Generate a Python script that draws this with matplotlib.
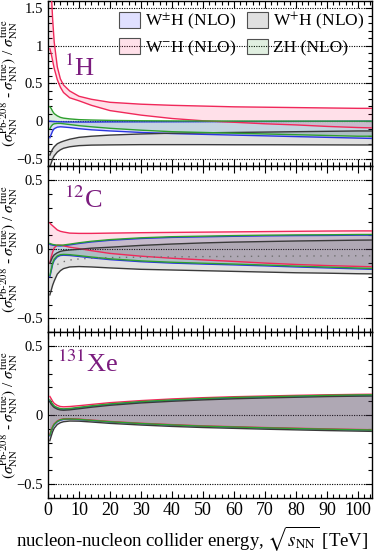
import numpy as np
import matplotlib
matplotlib.use('Agg')
import matplotlib.pyplot as plt
from matplotlib.patches import Patch
from matplotlib.ticker import MultipleLocator, FuncFormatter

plt.rcParams['font.family'] = ['Liberation Serif', 'DejaVu Serif']
plt.rcParams['mathtext.fontset'] = 'stix'

# ---------------- data ----------------
energy = [0.6, 1, 1.5, 2, 3, 4, 5, 7, 10, 14, 20, 30, 40, 50, 60, 70, 80, 90, 100, 105]

# 1H panel
h_wpm_hi = [0.0, -0.002, -0.004, -0.005, -0.007, -0.009, -0.01, -0.011, -0.012, -0.012, -0.01, -0.009, -0.008, -0.007, -0.005, -0.004, -0.003, -0.002, 0.0, 0.0]
h_wpm_lo = [-0.22, -0.18, -0.13, -0.1, -0.08, -0.075, -0.078, -0.085, -0.1, -0.115, -0.13, -0.15, -0.165, -0.175, -0.185, -0.195, -0.205, -0.215, -0.225, -0.23]
h_wm_hi = [2.2, 1.75, 1.35, 1.05, 0.72, 0.56, 0.48, 0.4, 0.33, 0.29, 0.25, 0.225, 0.21, 0.2, 0.19, 0.185, 0.18, 0.175, 0.17, 0.17]
h_wm_lo = [0.96, 0.9, 0.8, 0.7, 0.55, 0.45, 0.38, 0.31, 0.27, 0.21, 0.14, 0.08, 0.035, 0.005, -0.015, -0.035, -0.05, -0.07, -0.085, -0.09]
h_wp_hi = [-0.45, -0.41, -0.37, -0.34, -0.3, -0.28, -0.265, -0.24, -0.215, -0.2, -0.185, -0.17, -0.16, -0.155, -0.15, -0.145, -0.14, -0.135, -0.13, -0.13]
h_wp_lo = [-0.6, -0.56, -0.5, -0.46, -0.41, -0.38, -0.36, -0.34, -0.325, -0.318, -0.315, -0.312, -0.312, -0.312, -0.313, -0.313, -0.314, -0.315, -0.316, -0.316]
h_zh_hi = [0.19, 0.17, 0.13, 0.1, 0.07, 0.05, 0.04, 0.03, 0.02, 0.015, 0.01, 0.005, 0.003, 0.002, 0.001, 0.0, 0.0, 0.0, 0.0, 0.0]
h_zh_lo = [-0.1, -0.07, -0.045, -0.035, -0.03, -0.03, -0.035, -0.045, -0.06, -0.075, -0.095, -0.12, -0.14, -0.15, -0.16, -0.17, -0.18, -0.19, -0.2, -0.2]

# 12C panel
c_wpm_hi = [0.035, 0.033, 0.03, 0.028, 0.025, 0.024, 0.026, 0.032, 0.042, 0.053, 0.065, 0.078, 0.086, 0.09, 0.094, 0.097, 0.099, 0.1, 0.102, 0.102]
c_wpm_lo = [-0.2, -0.16, -0.11, -0.08, -0.055, -0.045, -0.043, -0.045, -0.052, -0.062, -0.075, -0.09, -0.1, -0.107, -0.113, -0.12, -0.128, -0.135, -0.142, -0.145]
c_wm_hi = [0.19, 0.18, 0.17, 0.16, 0.14, 0.13, 0.125, 0.117, 0.115, 0.115, 0.117, 0.12, 0.122, 0.124, 0.126, 0.128, 0.13, 0.132, 0.133, 0.133]
c_wm_lo = [-0.1, -0.06, -0.02, 0.01, 0.03, 0.03, 0.025, 0.015, 0.005, -0.01, -0.03, -0.05, -0.065, -0.077, -0.088, -0.1, -0.11, -0.118, -0.124, -0.127]
c_wp_hi = [-0.1, -0.08, -0.055, -0.04, -0.025, -0.015, -0.01, -0.005, 0.0, 0.008, 0.015, 0.028, 0.038, 0.046, 0.052, 0.056, 0.06, 0.063, 0.066, 0.067]
c_wp_lo = [-0.33, -0.3, -0.26, -0.23, -0.18, -0.155, -0.14, -0.128, -0.125, -0.128, -0.135, -0.145, -0.15, -0.155, -0.16, -0.165, -0.17, -0.173, -0.177, -0.178]
c_zh_hi = [0.042, 0.039, 0.035, 0.033, 0.03, 0.029, 0.031, 0.037, 0.047, 0.058, 0.07, 0.083, 0.091, 0.095, 0.099, 0.102, 0.104, 0.105, 0.107, 0.107]
c_zh_lo = [-0.19, -0.15, -0.1, -0.072, -0.048, -0.039, -0.037, -0.039, -0.046, -0.056, -0.069, -0.084, -0.094, -0.101, -0.107, -0.114, -0.122, -0.129, -0.136, -0.139]
c_wp_mid = [None, None, None, None, -0.11, -0.1, -0.09, -0.078, -0.07, -0.065, -0.06, -0.057, -0.055, -0.053, -0.052, -0.05, -0.049, -0.048, -0.047, -0.047]

# 131Xe panel
x_wpm_hi = [0.105, 0.09, 0.075, 0.062, 0.05, 0.043, 0.041, 0.044, 0.052, 0.063, 0.077, 0.094, 0.106, 0.116, 0.124, 0.129, 0.134, 0.139, 0.142, 0.143]
x_wpm_lo = [-0.15, -0.12, -0.09, -0.07, -0.048, -0.037, -0.032, -0.03, -0.033, -0.04, -0.05, -0.063, -0.073, -0.082, -0.088, -0.094, -0.099, -0.104, -0.108, -0.11]
x_wm_hi = [0.135, 0.12, 0.1, 0.085, 0.07, 0.062, 0.06, 0.062, 0.068, 0.077, 0.09, 0.105, 0.117, 0.126, 0.133, 0.138, 0.143, 0.147, 0.15, 0.151]
x_wm_lo = [-0.14, -0.11, -0.082, -0.063, -0.042, -0.032, -0.027, -0.026, -0.029, -0.036, -0.046, -0.059, -0.069, -0.078, -0.084, -0.09, -0.095, -0.1, -0.104, -0.106]
x_wp_hi = [0.095, 0.08, 0.066, 0.055, 0.043, 0.037, 0.035, 0.038, 0.046, 0.057, 0.071, 0.088, 0.1, 0.11, 0.118, 0.124, 0.129, 0.134, 0.137, 0.138]
x_wp_lo = [-0.185, -0.155, -0.12, -0.095, -0.068, -0.055, -0.048, -0.043, -0.044, -0.05, -0.06, -0.072, -0.082, -0.09, -0.096, -0.102, -0.107, -0.112, -0.116, -0.118]
x_zh_hi = [0.11, 0.095, 0.079, 0.066, 0.054, 0.047, 0.045, 0.048, 0.056, 0.067, 0.081, 0.098, 0.11, 0.12, 0.128, 0.133, 0.138, 0.143, 0.146, 0.147]
x_zh_lo = [-0.145, -0.115, -0.086, -0.066, -0.045, -0.034, -0.029, -0.028, -0.031, -0.038, -0.048, -0.061, -0.071, -0.08, -0.086, -0.092, -0.097, -0.102, -0.106, -0.108]

series_labels = [r'W$^{\pm}$H (NLO)', r'W$^{-}$H (NLO)', r'W$^{+}$H (NLO)', 'ZH (NLO)']
nucleus_labels = [r'$^{1}$H', r'$^{12}$C', r'$^{131}$Xe']
x_ticks = [0, 10, 20, 30, 40, 50, 60, 70, 80, 90, 100]

# ---------------- style ----------------
line_cols = ['#2a35e0', '#f0285a', '#3a3a3a', '#2ea02e']
fill_cols = [(0.0, 0.0, 1.0, 0.12), (1.0, 0.0, 0.3, 0.12), (0.25, 0.25, 0.25, 0.16), (0.0, 0.5, 0.0, 0.12)]
label_col = '#7b1c7e'

panels = [
    dict(bands=[(h_wpm_lo, h_wpm_hi), (h_wm_lo, h_wm_hi), (h_wp_lo, h_wp_hi), (h_zh_lo, h_zh_hi)],
         ylim=(-0.6, 1.6), mid=None, txt=(5.3, 0.6)),
    dict(bands=[(c_wpm_lo, c_wpm_hi), (c_wm_lo, c_wm_hi), (c_wp_lo, c_wp_hi), (c_zh_lo, c_zh_hi)],
         ylim=(-0.6, 0.6), mid=c_wp_mid, txt=(5.0, 0.30)),
    dict(bands=[(x_wpm_lo, x_wpm_hi), (x_wm_lo, x_wm_hi), (x_wp_lo, x_wp_hi), (x_zh_lo, x_zh_hi)],
         ylim=(-0.6, 0.6), mid=None, txt=(3.0, 0.31)),
]

fig = plt.figure(figsize=(3.77, 5.54), dpi=100)
left, right = 48 / 377, 372 / 377
bottom = 1 - 498 / 554
top = 0.999
h = (top - bottom) / 3

def fmt(v, p):
    if abs(v) < 1e-9:
        return '0'
    return f'{v:g}'.replace('-', '\u2212')

x = np.array(energy, dtype=float)
axes = []
for i, pdef in enumerate(panels):
    ax = fig.add_axes([left, top - (i + 1) * h, right - left, h])
    axes.append(ax)
    for k, (lo, hi) in enumerate(pdef['bands']):
        lo = np.array(lo, float)
        hi = np.array(hi, float)
        ax.fill_between(x, lo, hi, facecolor=fill_cols[k], edgecolor='none', zorder=2)
        ax.plot(x, hi, color=line_cols[k], lw=1.0, zorder=3)
        ax.plot(x, lo, color=line_cols[k], lw=1.0, zorder=3)
    if pdef['mid'] is not None:
        m = np.array([np.nan if v is None else v for v in pdef['mid']], float)
        ax.plot(x, m, color='#707070', lw=1.0, ls=(0, (1, 4)), zorder=3)
    ax.set_xlim(0, 104.5)
    ax.set_ylim(*pdef['ylim'])
    ax.xaxis.set_major_locator(MultipleLocator(10))
    ax.xaxis.set_minor_locator(MultipleLocator(2))
    ax.yaxis.set_major_locator(MultipleLocator(0.5))
    ax.yaxis.set_minor_locator(MultipleLocator(0.1))
    ax.yaxis.set_major_formatter(FuncFormatter(fmt))
    ax.tick_params(which='both', direction='in', top=True, right=True, width=0.8, labelsize=10.5)
    ax.tick_params(which='major', length=5)
    ax.tick_params(which='minor', length=2.6)
    ax.yaxis.grid(True, which='major', ls=(0, (1, 1.2)), color='k', lw=0.8, zorder=1)
    for s in ax.spines.values():
        s.set_linewidth(1.0)
    ax.set_ylabel(r'$(\sigma^{\mathrm{Pb}\text{-}\mathrm{208}}_{\mathrm{NN}}$ - $\sigma^{\mathrm{true}}_{\mathrm{NN}})$ / $\sigma^{\mathrm{true}}_{\mathrm{NN}}$',
                  fontsize=11)
    ax.yaxis.set_label_coords(-0.085, 0.5)
    ax.text(pdef['txt'][0], pdef['txt'][1], nucleus_labels[i], color=label_col, fontsize=19,
            ha='left', va='baseline', zorder=5)
    if i < 2:
        ax.tick_params(labelbottom=False)

axes[-1].set_xticks(x_ticks)
axes[-1].set_xticklabels([str(t) for t in x_ticks])
axes[-1].tick_params(axis='x', labelsize=13, pad=3)
axes[-1].set_xlabel(r'nucleon-nucleon collider energy, $\sqrt{s_{\mathrm{NN}}}$ [TeV]', fontsize=13.5, labelpad=2)
axes[-1].xaxis.set_label_coords(0.444, -0.155)

handles = [Patch(facecolor=fill_cols[k], edgecolor='#505050', lw=0.8) for k in range(4)]
axes[0].legend(handles, series_labels, ncol=2, loc='upper left', bbox_to_anchor=(0.19, 1.0),
               frameon=False, fontsize=12.5, handlelength=1.2, handleheight=1.0,
               handletextpad=0.3, columnspacing=0.6, labelspacing=0.4, borderaxespad=0.15)

fig.savefig('out.png', dpi=100)
